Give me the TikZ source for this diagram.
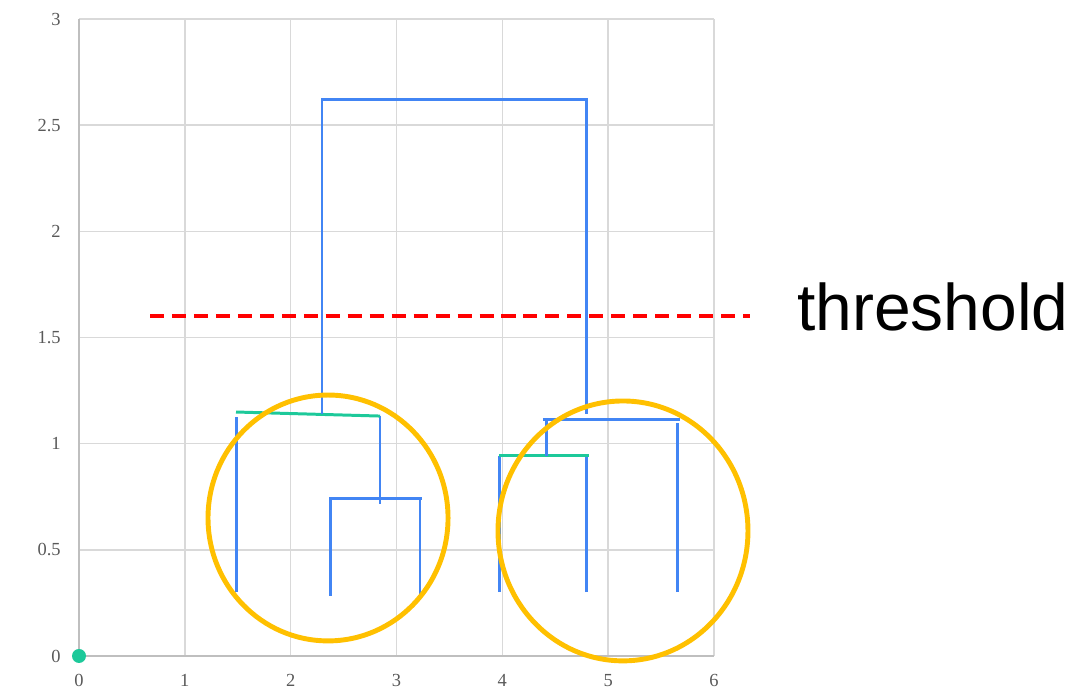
\documentclass[tikz,border=0pt]{standalone}
\usepackage{fontspec}
\setmainfont{Liberation Serif}
\newfontfamily\labelfont{Liberation Sans}
\usetikzlibrary{calc}
\definecolor{gridgray}{HTML}{D9D9D9}
\definecolor{axisgray}{HTML}{BFBFBF}
\definecolor{tickgray}{HTML}{595959}
\definecolor{linkblue}{HTML}{4285F4}
\definecolor{cutgreen}{HTML}{1DC99A}
\definecolor{ringgold}{HTML}{FFC000}

\begin{document}
\begin{tikzpicture}[
  x=2.1167cm, y=4.2467cm,
  grid/.style={draw=gridgray, line width=0.8pt},
  axis/.style={draw=axisgray, line width=0.9pt},
  tick/.style={text=tickgray, font=\fontsize{10.5}{11}\selectfont, inner sep=0pt},
  link/.style={draw=linkblue, line width=1.7pt},
  cut/.style={draw=cutgreen, line width=1.7pt},
  ring/.style={draw=ringgold, line width=2.8pt},
  thresh/.style={draw=red, line width=2pt, dash pattern=on 8pt off 4.5pt}
]
\useasboundingbox (-0.7465,-0.1743) rectangle (9.515,3.0895);

% grid and axes
\foreach \gx in {1,...,6} \draw[grid] (\gx,0) -- (\gx,3);
\foreach \gy in {0.5,1,...,3} \draw[grid] (0,\gy) -- (6,\gy);
\draw[axis] (0,0) -- (6,0);
\draw[axis] (0,0) -- (0,3);
\foreach \gx in {0,...,6} \node[tick, anchor=north] (xt\gx) at (\gx,-0.085) {\gx};
\foreach \gy/\lab in {0/0,0.5/0.5,1/1,1.5/1.5,2/2,2.5/2.5,3/3}
  \node[tick, anchor=east] (yt\lab) at (-0.17,\gy) {\lab};
\node[circle, fill=cutgreen, inner sep=0pt, minimum size=0.28cm] (origin) at (0,0) {};

% left cluster
\coordinate (la) at (1.4835,0.301);
\coordinate (lb) at (2.372,0.283);
\coordinate (lc) at (3.222,0.292);
\draw[link] (la) -- (1.4835,1.126);
\draw[link] (lb) -- (2.372,0.744) -- (3.241,0.744);
\draw[link] (lc) -- (3.222,0.744);
\draw[link] (2.844,0.716) -- (2.844,1.130);
\draw[cut] (1.4835,1.149) -- (2.844,1.130);

% right cluster
\coordinate (ra) at (3.969,0.301);
\coordinate (rb) at (4.791,0.301);
\coordinate (rc) at (5.651,0.301);
\draw[link] (ra) -- (3.969,0.942);
\draw[link] (rb) -- (4.791,0.942);
\draw[cut] (3.969,0.942) -- (4.819,0.942);
\draw[link] (4.413,0.942) -- (4.413,1.116);
\draw[link] (4.384,1.116) -- (5.679,1.116);
\draw[link] (rc) -- (5.651,1.097);

% top link
\draw[link] (2.296,1.140) -- (2.296,2.628);
\draw[link] (2.296,2.619) -- (4.791,2.619) -- (4.791,1.140);

% clusters and threshold
\draw[ring] (2.353,0.650) ellipse [x radius=1.134, y radius=0.579];
\draw[ring] (5.140,0.589) ellipse [x radius=1.181, y radius=0.612];
\draw[thresh] (0.671,1.601) -- (6.34,1.601);
\node[anchor=base west, inner sep=0pt, font=\labelfont\fontsize{37.5}{40}\selectfont] (lbl) at (6.784,1.535) {threshold};
\end{tikzpicture}
\end{document}
